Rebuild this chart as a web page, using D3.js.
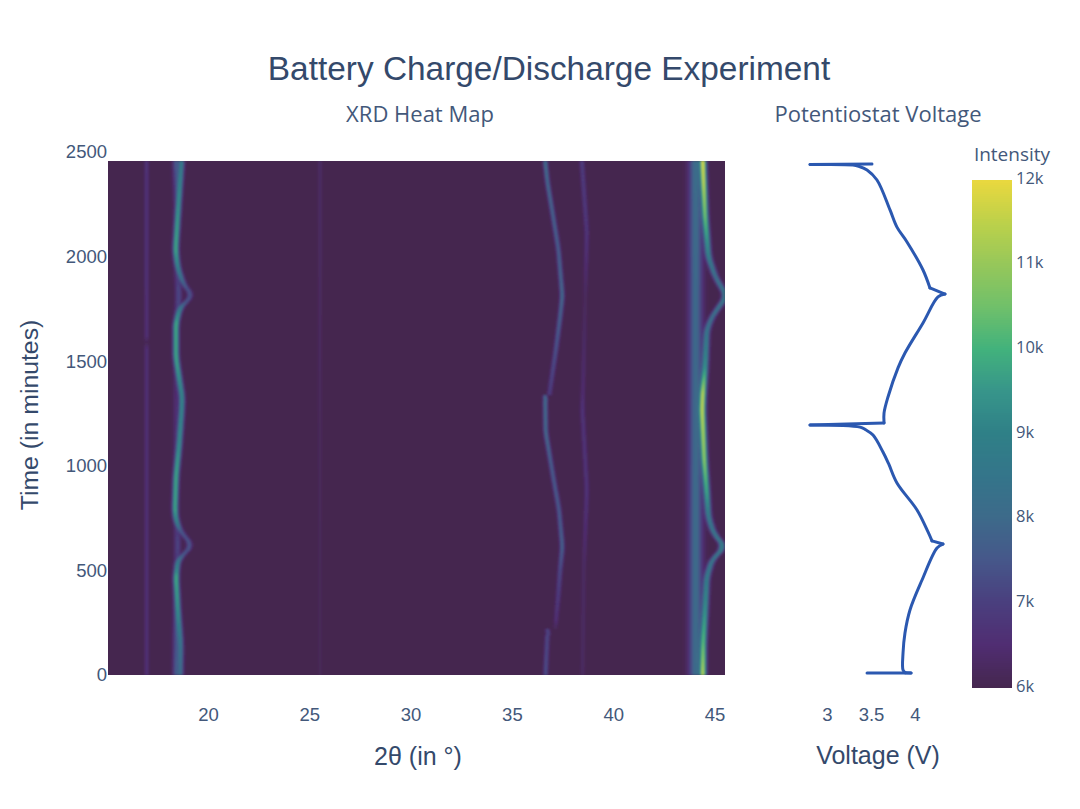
<!DOCTYPE html>
<html>
<head>
<meta charset="utf-8">
<script src="https://cdnjs.cloudflare.com/ajax/libs/d3/7.8.5/d3.min.js"></script>
<style>
  html, body {margin: 0; padding: 0; background: #fff;}
  text {fill: #2a3f5f;}
  .axis path, .axis line {display: none;}
  .axis text {font-family: "Liberation Sans", Arial, sans-serif; font-size: 18.5px; fill: #43587a;}
  .cbar text {font-family: "Open Sans", sans-serif; font-size: 16.5px; fill: #43587a;}
</style>
</head>
<body>
<svg id="chart" width="1080" height="809"></svg>
<script>
const xTicks = [20, 25, 30, 35, 40, 45];
const yTicks = [0, 500, 1000, 1500, 2000, 2500];
const voltTicks = [3, 3.5, 4];
const cbarTicks = [6000, 7000, 8000, 9000, 10000, 11000, 12000];
const timeMax = 2457;

//Colorbar colours, as seen on the reference bar
const cbarValues = [6, 6.5, 7, 7.5, 8, 8.5, 9, 9.5, 10, 10.5, 11, 11.5, 12];
const cbarColors = ['#45274f', '#502d72', '#4a3f7e', '#46578a', '#3d6a8a', '#34758a', '#2f8087', '#37958a', '#42b27c', '#70c06a', '#96c75a', '#bdd14a', '#ead83e'];

//Potentiostat trace
const voltTime = [10, 10, 11, 24, 105, 201, 311, 454, 607, 626, 641, 684, 789, 918, 1010, 1066, 1147, 1172, 1185, 1195, 1205, 1252, 1329, 1468, 1539, 1683, 1807, 1821, 1850, 1936, 2070, 2141, 2223, 2366, 2414, 2432, 2438, 2440, 2443];
const voltage = [3.455, 3.955, 3.89, 3.864, 3.864, 3.886, 3.943, 4.08, 4.25, 4.318, 4.193, 4.148, 4.023, 3.795, 3.7, 3.636, 3.523, 3.44, 3.375, 2.807, 3.648, 3.648, 3.693, 3.807, 3.886, 4.091, 4.261, 4.341, 4.17, 4.091, 3.909, 3.795, 3.716, 3.568, 3.455, 3.36, 3.295, 2.807, 3.511];
//indexes where the trace turns sharply, the curve is not smoothed across them
const voltCorners = [0, 1, 2, 9, 10, 19, 20, 27, 28, 37, 38];

const baseIntensity = 6000;

const ridgeATime = [0, 153, 311, 468, 550, 583, 621, 660, 693, 740, 789, 946, 1100, 1267, 1329, 1520, 1683, 1754, 1785, 1813, 1845, 1874, 1950, 2032, 2250, 2457];
const ridgeAPos = [18.65, 18.65, 18.52, 18.42, 18.52, 18.86, 19.22, 18.86, 18.62, 18.42, 18.37, 18.42, 18.58, 18.7, 18.72, 18.42, 18.42, 18.62, 18.9, 19.28, 18.95, 18.77, 18.5, 18.4, 18.55, 18.7];
const ridgeAAmp = [2.0, 2.5, 3.0, 3.8, 2.2, 1.6, 1.5, 1.5, 1.6, 3.0, 3.7, 3.6, 3.3, 3.2, 3.2, 3.6, 3.8, 2.4, 1.6, 1.4, 1.5, 1.9, 3.0, 3.7, 3.3, 2.8];

const shoulderTime = [0, 200, 400, 500, 590, 650, 750, 1267, 1700, 1780, 1850, 1950, 2250, 2457];
const shoulderPos = [18.42, 18.42, 18.42, 18.42, 18.5, 18.5, 18.42, 18.42, 18.42, 18.55, 18.55, 18.42, 18.42, 18.42];
const shoulderAmp = [1.6, 1.2, 0.4, 0.2, 1.1, 1.1, 0.2, 0.5, 0.2, 1.2, 1.2, 0.2, 0.4, 1.7];

const ridgeBTime = [0, 1560, 1590, 1620, 2457];
const ridgeBPos = [16.97, 16.97, 16.97, 16.97, 16.97];
const ridgeBAmp = [0.6, 0.6, 0.1, 0.6, 0.7];

const ridgeCTime = [0, 1200, 2457];
const ridgeCPos = [25.53, 25.53, 25.53];
const ridgeCAmp = [0.14, 0.2, 0.34];

const ridgeDTime = [0, 215, 225, 263, 392, 502, 612, 789, 946, 1109, 1157, 1329, 1336, 1343, 1554, 1711, 1812, 2032, 2189, 2352, 2457];
const ridgeDPos = [36.66, 36.76, 37.16, 37.18, 37.3, 37.38, 37.49, 37.33, 37.04, 36.76, 36.67, 36.64, 36.64, 36.85, 37.17, 37.38, 37.49, 37.3, 37.04, 36.76, 36.64];
const ridgeDAmp = [1.4, 1.2, 0.2, 0.6, 1.0, 1.3, 1.9, 1.7, 1.7, 2.0, 2.1, 2.2, 1.5, 1.0, 1.5, 1.9, 2.1, 1.8, 1.9, 2.1, 2.3];
const ridgeDJumps = [220, 1340];

const ridgeETime = [0, 500, 884, 1267, 1343, 1800, 2113, 2457];
const ridgeEPos = [38.49, 38.55, 38.7, 38.48, 38.5, 38.62, 38.7, 38.45];
const ridgeEAmp = [0.28, 0.28, 0.75, 0.75, 0.5, 0.2, 0.8, 1.0];

const ridgeFTime = [0, 1800, 2457];
const ridgeFPos = [44.07, 44.07, 44.07];
const ridgeFAmp = [2.1, 2.0, 2.15];

const ridgeGTime = [10, 153, 311, 468, 550, 612, 679, 755, 870, 1028, 1267, 1348, 1472, 1649, 1711, 1812, 1903, 1998, 2189, 2350, 2457];
const ridgeGPos = [44.43, 44.45, 44.54, 44.62, 44.87, 45.5, 44.95, 44.7, 44.62, 44.5, 44.4, 44.43, 44.54, 44.62, 44.87, 45.6, 45.04, 44.7, 44.54, 44.47, 44.43];
const ridgeGAmp = [4.9, 3.9, 3.3, 2.8, 2.6, 3.0, 2.6, 2.8, 3.8, 4.7, 5.0, 5.0, 3.3, 2.5, 2.3, 2.8, 2.3, 3.0, 4.4, 5.2, 5.4];

//ridge list: [times, positions, heights, peak sigma in degrees, times it jumps at]
const ridges = [
  [ridgeATime, ridgeAPos, ridgeAAmp, 0.09, []],
  [shoulderTime, shoulderPos, shoulderAmp, 0.1, []],
  [ridgeBTime, ridgeBPos, ridgeBAmp, 0.07, []],
  [ridgeCTime, ridgeCPos, ridgeCAmp, 0.06, []],
  [ridgeDTime, ridgeDPos, ridgeDAmp, 0.07, ridgeDJumps],
  [ridgeETime, ridgeEPos, ridgeEAmp, 0.07, []],
  [ridgeFTime, ridgeFPos, ridgeFAmp, 0.22, []],
  [ridgeGTime, ridgeGPos, ridgeGAmp, 0.1, []]
].map(function(r) {
  return {
    pos: d3.scaleLinear().domain(r[0]).range(r[1]).clamp(true),
    amp: d3.scaleLinear().domain(r[0]).range(r[2]).clamp(true),
    sigma: r[3],
    jumps: r[4]
  };
});

//Takes the corners off a ridge, without averaging across its jumps
function smoothed(scale, t, jumps) {
  const offsets = [-24, -12, 0, 12, 24];
  return d3.mean(offsets, function(o) {
    const crosses = jumps.some(function(j) {return (t < j) !== (t + o < j);});
    return scale(crosses ? t : t + o);
  });
}

//Layout
const heatLeft = 108, heatRight = 725, heatTop = 161, heatBottom = 675;
const svg = d3.select("#chart");

//Scales
const xScale = d3.scaleLinear().domain([20, 45]).range([208, 714.5]);
const yScale = d3.scaleLinear().domain([0, 2500]).range([heatBottom, 152]);
const voltScale = d3.scaleLinear().domain([3, 4]).range([827, 915]);
const color = d3.scaleLinear().domain(cbarValues.map(function(d) {return d * 1000;})).range(cbarColors).clamp(true);
const cbarScale = d3.scaleLinear().domain([6000, 12000]).range([687, 180]);
const cbarTickScale = d3.scaleLinear().domain([6000, 12000]).range([686, 178]);

//Heat map cells, profile of each ridge summed per pixel
const cells = [];
for (let py = heatTop; py < heatBottom; py += 2) {
  const t = Math.min(yScale.invert(py + 1), timeMax);
  const peaks = ridges.map(function(r) {return {p: smoothed(r.pos, t, r.jumps), a: r.amp(t), s: r.sigma};});
  for (let px = heatLeft; px < heatRight; px++) {
    const deg = xScale.invert(px + 0.5);
    let v = 0;
    peaks.forEach(function(k) {
      const u = (deg - k.p) / k.s;
      if (Math.abs(u) < 4) v += k.a * Math.exp(-0.5 * u * u);
    });
    if (v > 0.015) cells.push({px: px, py: py, v: baseIntensity + v * 1000});
  }
}

const defs = svg.append("defs");
defs.append("filter").attr("id", "soft")
  .attr("x", "-2%").attr("y", "-2%").attr("width", "104%").attr("height", "104%")
  .append("feGaussianBlur").attr("stdDeviation", 0.8);
defs.append("clipPath").attr("id", "heatClip").append("rect")
  .attr("x", heatLeft).attr("y", heatTop).attr("width", heatRight - heatLeft).attr("height", heatBottom - heatTop);

const heat = svg.append("g").attr("clip-path", "url(#heatClip)").append("g").attr("filter", "url(#soft)");
heat.append("rect")
  .attr("x", heatLeft - 5).attr("y", heatTop - 5)
  .attr("width", heatRight - heatLeft + 10).attr("height", heatBottom - heatTop + 10)
  .attr("fill", color(baseIntensity));
heat.selectAll("rect.cell")
  .data(cells)
  .enter()
  .append("rect")
  .attr("class", "cell")
  .attr("x", function(d) {return d.px;})
  .attr("y", function(d) {return d.py;})
  .attr("width", 1.2)
  .attr("height", 2.2)
  .attr("fill", function(d) {return color(d.v);});

//Axes
svg.append("g").attr("class", "axis").attr("transform", "translate(0,702)")
  .call(d3.axisBottom(xScale).tickValues(xTicks).tickSize(0).tickPadding(6));
svg.append("g").attr("class", "axis").attr("transform", "translate(107,0)")
  .call(d3.axisLeft(yScale).tickValues(yTicks).tickSize(0).tickPadding(0).tickFormat(d3.format("d")));
svg.append("g").attr("class", "axis").attr("transform", "translate(0,702)")
  .call(d3.axisBottom(voltScale).tickValues(voltTicks).tickSize(0).tickPadding(6).tickFormat(d3.format("~g")));

//Voltage trace, one smooth piece between each pair of sharp corners
const voltLine = d3.line()
  .x(function(i) {return voltScale(voltage[i]);})
  .y(function(i) {return yScale(voltTime[i]);})
  .curve(d3.curveCatmullRom.alpha(0.5));
svg.append("g").selectAll("path")
  .data(d3.pairs(voltCorners))
  .enter()
  .append("path")
  .attr("d", function(d) {return voltLine(d3.range(d[0], d[1] + 1));})
  .attr("fill", "none")
  .attr("stroke", "#2b58b0")
  .attr("stroke-width", 3)
  .attr("stroke-linecap", "round");

//Colorbar
const cbarSteps = d3.range(6000, 12000, 25);
svg.append("g").attr("shape-rendering", "crispEdges").selectAll("rect")
  .data(cbarSteps)
  .enter()
  .append("rect")
  .attr("x", 972)
  .attr("width", 40)
  .attr("y", function(d) {return cbarScale(d + 25);})
  .attr("height", function(d) {return cbarScale(d) - cbarScale(d + 25) + 1;})
  .attr("fill", function(d) {return color(d);});
svg.append("g").attr("class", "axis cbar").attr("transform", "translate(1016,0)")
  .call(d3.axisRight(cbarTickScale).tickValues(cbarTicks).tickSize(0).tickPadding(0).tickFormat(function(d) {return d / 1000 + "k";}));

//Titles
function addText(str, x, y, size, family, rotate) {
  const t = svg.append("text").text(str)
    .attr("x", x).attr("y", y)
    .attr("text-anchor", "middle")
    .attr("font-size", size)
    .attr("font-family", family);
  if (rotate) t.attr("transform", "rotate(-90," + x + "," + y + ")");
  return t;
}
const sans = '"Liberation Sans", Arial, sans-serif', open = '"Open Sans", sans-serif';
addText("Battery Charge/Discharge Experiment", 549, 80, 33.4, sans).style("fill", "#34496b");
addText("XRD Heat Map", 420, 122, 22, open).style("fill", "#43587a");
addText("Potentiostat Voltage", 878, 122, 22, open).style("fill", "#43587a");
addText("Intensity", 1012, 161, 19, open).style("fill", "#43587a");
addText("2θ (in °)", 418, 765, 25, sans).style("fill", "#34496b");
addText("Voltage (V)", 878, 764, 25, sans).style("fill", "#34496b");
addText("Time (in minutes)", 38, 415, 24.8, sans, true).style("fill", "#34496b");
</script>
</body>
</html>
